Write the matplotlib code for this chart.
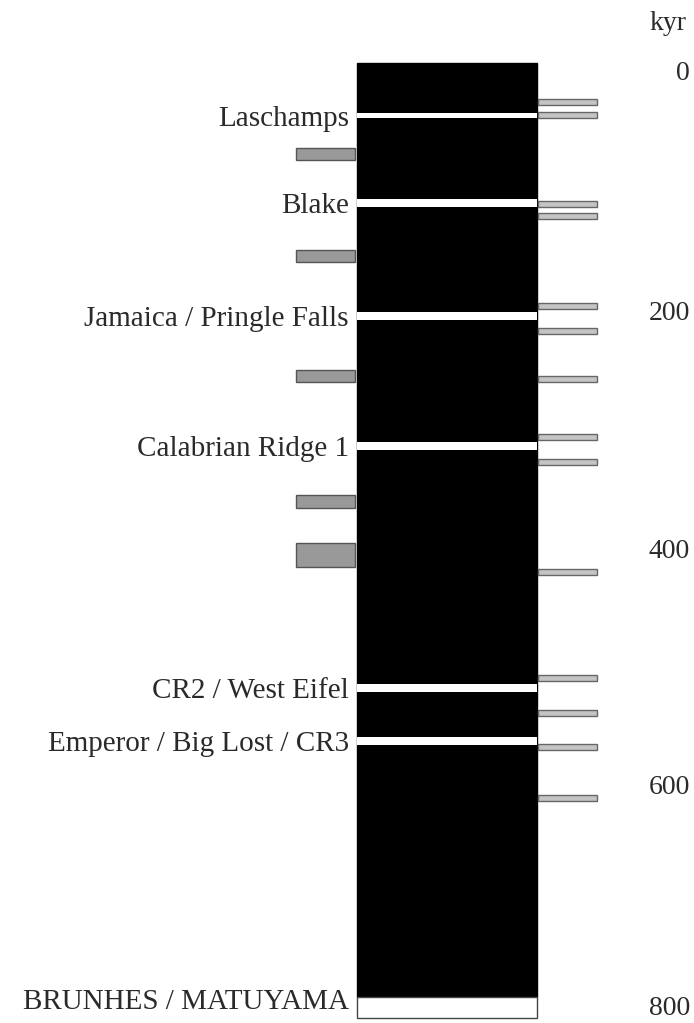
import matplotlib.pyplot as plt

plt.rcParams['font.family'] = ['Liberation Serif', 'DejaVu Serif']

# excursions (white bands in the normal-polarity column), kyr
excursion_names = ['Laschamps', 'Blake', 'Jamaica / Pringle Falls', 'Calabrian Ridge 1',
                   'CR2 / West Eifel', 'Emperor / Big Lost / CR3']
excursion_ages = [44, 117, 211, 320, 522, 566]
excursion_widths = [4, 6.5, 6.5, 6.5, 6.5, 6.5]

# Brunhes / Matuyama boundary
bm_age = 780
bm_base = 797.5

# left grey blocks (top, bottom) in kyr
left_tops = [71, 156, 256.5, 361, 401]
left_bottoms = [81, 166, 266.5, 372, 421]

# right thin bars, kyr
right_ages = [32.6, 43.4, 117.8, 127.8, 202.9, 223.8, 263.9, 312.3, 333.2,
              425.1, 513.6, 542.8, 571.2, 613.8]

# age scale labels and where they sit
scale_labels = ['0', '200', '400', '600', '800']
scale_pos = [9, 209, 408, 605, 790]

fig = plt.figure(figsize=(6.94, 10.23), dpi=100)
ax = fig.add_axes([0, 0, 1, 1])
ax.set_xlim(0, 694)
ax.set_ylim(801.7, -52.6)
ax.axis('off')

# main column
ax.barh(bm_age / 2, 180, height=bm_age, left=357, color='black', edgecolor='black', lw=1)
ax.barh(excursion_ages, 180, height=excursion_widths, left=357, color='white', edgecolor='none')
ax.barh((bm_age + bm_base) / 2, 180, height=bm_base - bm_age, left=357,
        color='white', edgecolor='#444444', lw=1)

# grey blocks on the left
heights = [b - t for t, b in zip(left_tops, left_bottoms)]
centers = [(t + b) / 2 for t, b in zip(left_tops, left_bottoms)]
ax.barh(centers, 59, height=heights, left=296, color='#999999', edgecolor='#555555', lw=1)

# thin bars on the right
ax.barh(right_ages, 59, height=5.5, left=538, color='#c4c4c4', edgecolor='#666666', lw=1)

# labels
for name, age in zip(excursion_names, excursion_ages):
    ax.text(349, age + 2.5, name, ha='right', va='center', fontsize=21, color='#2a2a2a')
ax.text(349, bm_age + 4, 'BRUNHES / MATUYAMA', ha='right', va='center', fontsize=21, color='#2a2a2a')

ax.text(650, -33, 'kyr', ha='left', va='center', fontsize=20, color='#2a2a2a')
for lab, pos in zip(scale_labels, scale_pos):
    ax.text(690, pos, lab, ha='right', va='center', fontsize=20, color='#2a2a2a')

plt.savefig('out.png', dpi=100)
